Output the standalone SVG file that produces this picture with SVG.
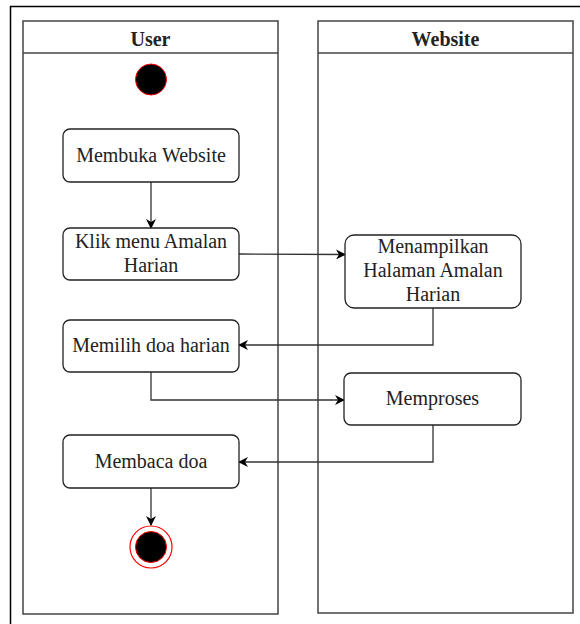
<svg xmlns="http://www.w3.org/2000/svg" width="580" height="624" viewBox="0 0 580 624">
  <style>
    .frame { fill: none; stroke: #000; stroke-width: 1.5; }
    .lane { fill: #fff; stroke: #444; stroke-width: 1.5; }
    .act { fill: #fff; stroke: #222; stroke-width: 1.3; }
    .edge { fill: none; stroke: #333; stroke-width: 1.3; marker-end: url(#arrow); }
    text { font-family: "Liberation Serif", "Times New Roman", serif; font-size: 20px; fill: #222; text-anchor: middle; }
    text.hdr { font-weight: bold; }
  </style>
  <defs>
    <marker id="arrow" viewBox="0 0 10 10" refX="9" refY="5" markerWidth="10" markerHeight="10" markerUnits="userSpaceOnUse" orient="auto">
      <path d="M0,0 L10,5 L0,10 L3,5 Z" fill="#000"/>
    </marker>
  </defs>

  <rect width="580" height="624" fill="#fff"/>
  <rect class="frame" x="10.5" y="6.5" width="580" height="630"/>

  <!-- swimlanes -->
  <g id="lane-user">
    <rect class="lane" x="23" y="21" width="255" height="593"/>
    <line x1="23" y1="53" x2="278" y2="53" stroke="#444" stroke-width="1.5"/>
    <text class="hdr" x="150.5" y="46" font-family="Liberation Serif" font-size="20" font-weight="bold">User</text>
  </g>
  <g id="lane-website">
    <rect class="lane" x="318" y="21" width="255" height="592"/>
    <line x1="318" y1="53" x2="573" y2="53" stroke="#444" stroke-width="1.5"/>
    <text class="hdr" x="445.5" y="46" font-family="Liberation Serif" font-size="20" font-weight="bold">Website</text>
  </g>

  <!-- connectors -->
  <g id="connectors">
    <path class="edge" d="M151,182 L151,228"/>
    <path class="edge" d="M239,254 L345,254.5"/>
    <path class="edge" d="M433,308 L433,345 L239,345"/>
    <path class="edge" d="M151,372 L151,400 L344,400"/>
    <path class="edge" d="M433,425 L433,462 L239,462"/>
    <path class="edge" d="M151,488 L151,525"/>
  </g>

  <!-- nodes -->
  <g id="start">
    <circle cx="151" cy="79.5" r="15.5" fill="#000" stroke="#f00" stroke-width="1"/>
  </g>
  <g id="membuka-website">
    <rect class="act" x="63" y="129" width="176" height="53" rx="7"/>
    <text x="151" y="162" font-family="Liberation Serif" font-size="20">Membuka Website</text>
  </g>
  <g id="klik-menu">
    <rect class="act" x="63" y="228" width="176" height="52" rx="7"/>
    <text x="151" y="248" font-family="Liberation Serif" font-size="20">Klik menu Amalan</text>
    <text x="151" y="272" font-family="Liberation Serif" font-size="20">Harian</text>
  </g>
  <g id="menampilkan-halaman">
    <rect class="act" x="345" y="235" width="176" height="73" rx="9"/>
    <text x="433" y="253" font-family="Liberation Serif" font-size="20">Menampilkan</text>
    <text x="433" y="277" font-family="Liberation Serif" font-size="20">Halaman Amalan</text>
    <text x="433" y="301" font-family="Liberation Serif" font-size="20">Harian</text>
  </g>
  <g id="memilih-doa">
    <rect class="act" x="63" y="320" width="176" height="52" rx="7"/>
    <text x="151" y="352" font-family="Liberation Serif" font-size="20">Memilih doa harian</text>
  </g>
  <g id="memproses">
    <rect class="act" x="344" y="373" width="177" height="52" rx="7"/>
    <text x="432.5" y="405" font-family="Liberation Serif" font-size="20">Memproses</text>
  </g>
  <g id="membaca-doa">
    <rect class="act" x="63" y="435" width="176" height="53" rx="7"/>
    <text x="151" y="468" font-family="Liberation Serif" font-size="20">Membaca doa</text>
  </g>
  <g id="end">
    <circle cx="151" cy="547" r="21" fill="#fff" stroke="#f00" stroke-width="1.2"/>
    <circle cx="151" cy="547" r="15.5" fill="#000" stroke="#f00" stroke-width="1"/>
  </g>
</svg>
